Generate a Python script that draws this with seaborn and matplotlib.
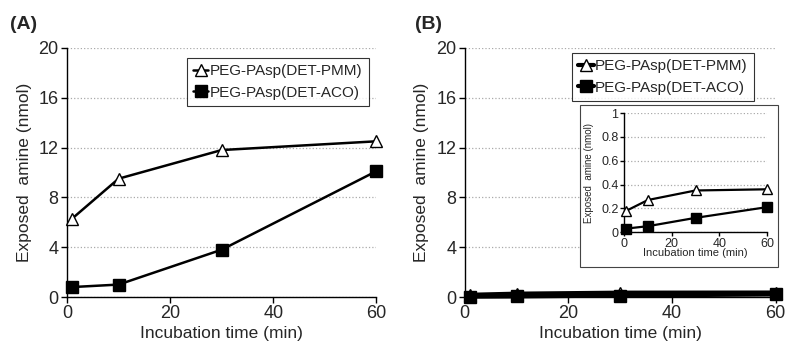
import matplotlib.pyplot as plt
import matplotlib.patches as mpatches
import seaborn as sns
import pandas as pd

# incubation time (min)
time = [1, 10, 30, 60]

# panel A: exposed amine (nmol)
pmm_a = [6.3, 9.5, 11.8, 12.5]
aco_a = [0.8, 1.0, 3.8, 10.1]

# panel B (and inset): exposed amine (nmol)
pmm_b = [0.18, 0.27, 0.35, 0.36]
aco_b = [0.03, 0.05, 0.12, 0.21]

series_names = ["PEG-PAsp(DET-PMM)", "PEG-PAsp(DET-ACO)"]

sns.set_theme(style="white")
plt.rcParams['font.family'] = ['Liberation Sans', 'DejaVu Sans']


def make_df(pmm, aco):
    rows = []
    for t, v in zip(time, pmm):
        rows.append({'Time': t, 'Amine': v, 'Polymer': series_names[0]})
    for t, v in zip(time, aco):
        rows.append({'Time': t, 'Amine': v, 'Polymer': series_names[1]})
    return pd.DataFrame(rows)


def draw(ax, df, ms, lw, legend):
    for name, mk, fc in [(series_names[0], '^', 'white'), (series_names[1], 's', 'black')]:
        sub = df[df['Polymer'] == name]
        sns.lineplot(data=sub, x='Time', y='Amine', ax=ax, color='black', lw=lw,
                     marker=mk, markersize=ms, markerfacecolor=fc, markeredgecolor='black',
                     markeredgewidth=1.0, label=name if legend else None, clip_on=False,
                     zorder=3)


def style(ax, ymax, ystep, fs, label_fs, lpad):
    ax.set_xlim(0, 60)
    ax.set_ylim(0, ymax)
    ax.set_xticks([0, 20, 40, 60])
    ax.set_yticks([round(i * ystep, 2) for i in range(int(round(ymax / ystep)) + 1)])
    for s in ['top', 'right']:
        ax.spines[s].set_visible(False)
    for s in ['left', 'bottom']:
        ax.spines[s].set_color('black')
        ax.spines[s].set_linewidth(1.0)
    ax.yaxis.grid(True, color='#aaaaaa', linestyle=':', linewidth=0.9)
    ax.xaxis.grid(False)
    ax.tick_params(axis='both', direction='out', length=4, width=1, color='black',
                   labelsize=fs, left=True, bottom=True, pad=2)
    ax.set_xlabel('Incubation time (min)', fontsize=label_fs, labelpad=lpad)
    ax.set_ylabel('Exposed  amine (nmol)', fontsize=label_fs, labelpad=5)


fig = plt.figure(figsize=(7.85, 3.47), dpi=100)
ax_a = fig.add_axes([0.0854, 0.144, 0.394, 0.718])
ax_b = fig.add_axes([0.592, 0.144, 0.396, 0.718])

df_a = make_df(pmm_a, aco_a)
df_b = make_df(pmm_b, aco_b)

draw(ax_a, df_a, 8, 1.8, True)
style(ax_a, 20, 4, 13, 12.5, 2.5)
ax_a.legend(loc='upper right', bbox_to_anchor=(1.0, 0.99), fontsize=11, frameon=True,
            fancybox=False, edgecolor='black', handlelength=1.0, handletextpad=0.1,
            borderpad=0.4, labelspacing=0.5).get_frame().set_linewidth(0.8)

draw(ax_b, df_b, 8, 3, True)
style(ax_b, 20, 4, 13, 12.5, 2.5)
ax_b.legend(loc='upper right', bbox_to_anchor=(0.955, 1.01), fontsize=11, frameon=True,
            fancybox=False, edgecolor='black', handlelength=1.0, handletextpad=0.1,
            borderpad=0.4, labelspacing=0.5).get_frame().set_linewidth(0.8)

# inset frame and axes
frame = mpatches.Rectangle((0.739, 0.2305), 0.252, 0.4665, transform=fig.transFigure,
                           facecolor='white', edgecolor='#444444', linewidth=0.8, zorder=5)
fig.patches.append(frame)

ax_in = fig.add_axes([0.795, 0.331, 0.182, 0.343])
ax_in.set_zorder(6)
ax_in.patch.set_alpha(0)
draw(ax_in, df_b, 7, 1.6, False)
style(ax_in, 1, 0.2, 9, 8, -1)
ax_in.set_yticks([0, 0.2, 0.4, 0.6, 0.8, 1.0])
ax_in.set_yticklabels(['0', '0.2', '0.4', '0.6', '0.8', '1'])
ax_in.tick_params(length=3, pad=1)
ax_in.yaxis.label.set_fontsize(7)

fig.text(0.013, 0.915, '(A)', fontsize=14, fontweight='bold')
fig.text(0.529, 0.915, '(B)', fontsize=14, fontweight='bold')

fig.savefig('out.png', dpi=100)
